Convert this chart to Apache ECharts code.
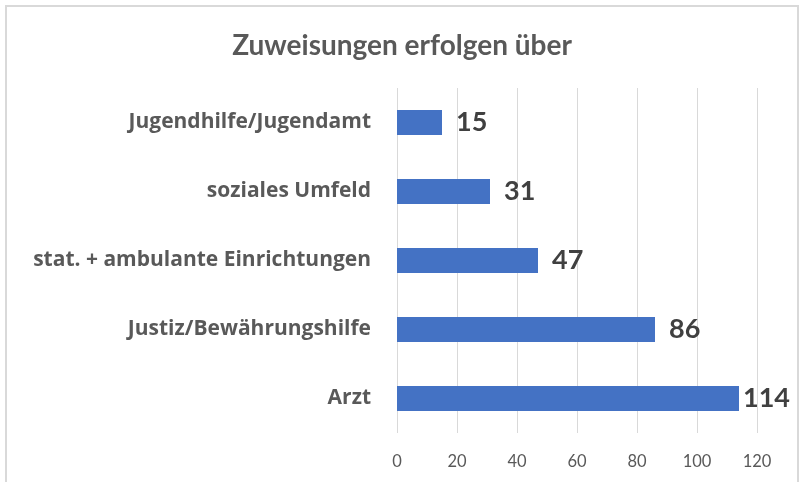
<!DOCTYPE html>
<html>
<head>
<meta charset="utf-8">
<script src="https://cdn.jsdelivr.net/npm/echarts@6/dist/echarts.min.js"></script>
<style>
  html, body { margin: 0; padding: 0; background: #fff; }
  #chart { width: 804px; height: 482px; }
</style>
</head>
<body>
<div id="chart"></div>
<script>
// data, bottom to top as in the picture
const categories = ['Arzt', 'Justiz/Bewährungshilfe', 'stat. + ambulante Einrichtungen', 'soziales Umfeld', 'Jugendhilfe/Jugendamt'];
const counts = [114, 86, 47, 31, 15];
const xTicks = [0, 20, 40, 60, 80, 100, 120];

const FONT = 'Lato, "Open Sans", sans-serif';

var chart = echarts.init(document.getElementById('chart'));

var option = {
  backgroundColor: '#fff',
  animation: false,
  title: {
    text: 'Zuweisungen erfolgen über',
    left: 'center',
    top: 27,
    textStyle: { fontFamily: FONT, fontSize: 28, fontWeight: 'bold', color: '#595959' }
  },
  graphic: [{
    type: 'rect',
    shape: { x: 6, y: 6, width: 792, height: 520 },
    style: { fill: 'none', stroke: '#d9d9d9', lineWidth: 2 },
    silent: true
  }],
  grid: { left: 397, right: 47, top: 88, bottom: 49 },
  xAxis: {
    type: 'value',
    min: xTicks[0],
    max: xTicks[xTicks.length - 1],
    interval: xTicks[1] - xTicks[0],
    axisLine: { show: false },
    axisTick: { show: false },
    axisLabel: { fontFamily: FONT, fontSize: 16.5, color: '#595959', margin: 20 },
    splitLine: { lineStyle: { color: '#d9d9d9', width: 1 } }
  },
  yAxis: {
    type: 'category',
    data: categories,
    axisLine: { show: false },
    axisTick: { show: false },
    axisLabel: { fontFamily: '"Open Sans", sans-serif', fontSize: 21, fontWeight: 'bold', color: '#595959', margin: 26 }
  },
  series: [{
    type: 'bar',
    data: counts.map(v => ({
      value: v,
      // the largest label sits tight against its bar, as in the original
      label: { distance: v > 100 ? 4 : 14 }
    })),
    barWidth: '36%',
    itemStyle: { color: '#4472c4' },
    label: {
      show: true,
      position: 'right',
      fontFamily: FONT,
      fontSize: 27,
      fontWeight: 'bold',
      color: '#404040'
    }
  }]
};

chart.setOption(option);
</script>
</body>
</html>
